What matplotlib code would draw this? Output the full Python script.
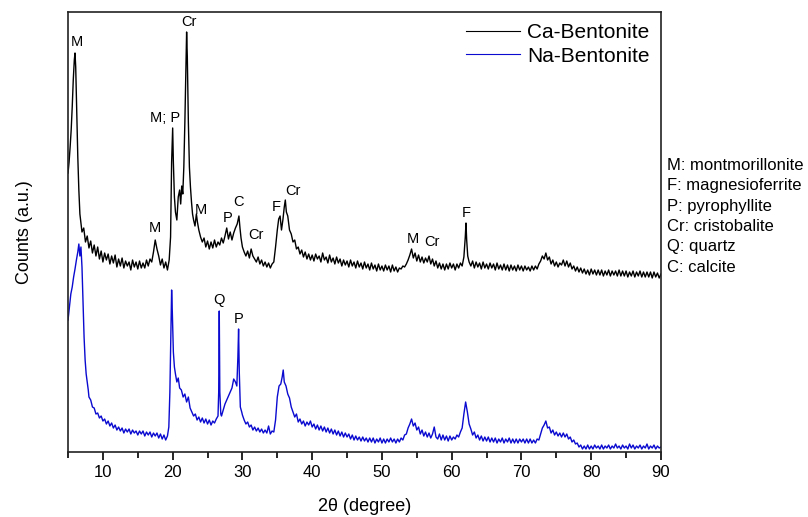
import matplotlib
matplotlib.use("Agg")
import matplotlib.pyplot as plt
from matplotlib.ticker import MultipleLocator

plt.rcParams['font.family'] = ['Liberation Sans', 'DejaVu Sans']

# XRD patterns (2theta in degrees, counts in arbitrary units)
two_theta_ca = [
    5.0, 5.15, 5.3, 5.45, 5.6, 5.75, 5.9, 6.0, 6.1, 6.25, 6.4, 6.55, 6.7, 6.85,
    7.0, 7.25, 7.5, 7.75, 8.0, 8.25, 8.5, 8.75, 9.0, 9.25, 9.5, 9.75,
    10.0, 10.25, 10.5, 10.75, 11.0, 11.25, 11.5, 11.75, 12.0, 12.25, 12.5, 12.75,
    13.0, 13.25, 13.5, 13.75, 14.0, 14.25, 14.5, 14.75, 15.0, 15.25, 15.5, 15.75,
    16.0, 16.25, 16.5, 16.75, 17.0, 17.25, 17.5, 17.75, 18.0, 18.25, 18.5, 18.75,
    19.0, 19.25, 19.5, 19.7, 19.85, 20.0, 20.1, 20.25, 20.4, 20.6, 20.8,
    21.0, 21.15, 21.3, 21.45, 21.6, 21.75, 21.9, 22.0, 22.1, 22.25, 22.4, 22.55,
    22.7, 22.85, 23.0, 23.2, 23.4, 23.55, 23.75, 24.0, 24.25, 24.5, 24.75,
    25.0, 25.25, 25.5, 25.75, 26.0, 26.25, 26.5, 26.75, 27.0, 27.25, 27.5, 27.75,
    28.0, 28.25, 28.5, 28.75, 29.0, 29.25, 29.5, 29.65, 29.8,
    30.0, 30.25, 30.5, 30.75, 31.0, 31.25, 31.5, 31.75, 32.0, 32.25, 32.5, 32.75,
    33.0, 33.25, 33.5, 33.75, 34.0, 34.25, 34.5, 34.75, 35.0, 35.2, 35.4, 35.6,
    35.8, 36.0, 36.15, 36.3, 36.5, 36.75, 37.0, 37.25, 37.5, 37.75,
    38.0, 38.25, 38.5, 38.75, 39.0, 39.25, 39.5, 39.75,
    40.0, 40.25, 40.5, 40.75, 41.0, 41.25, 41.5, 41.75, 42.0, 42.25, 42.5, 42.75,
    43.0, 43.25, 43.5, 43.75, 44.0, 44.25, 44.5, 44.75, 45.0, 45.25, 45.5, 45.75,
    46.0, 46.25, 46.5, 46.75, 47.0, 47.25, 47.5, 47.75, 48.0, 48.25, 48.5, 48.75,
    49.0, 49.25, 49.5, 49.75, 50.0, 50.25, 50.5, 50.75, 51.0, 51.25, 51.5, 51.75,
    52.0, 52.25, 52.5, 52.75, 53.0, 53.25, 53.5, 53.75, 54.0, 54.25, 54.5, 54.75,
    55.0, 55.25, 55.5, 55.75, 56.0, 56.25, 56.5, 56.75, 57.0, 57.25, 57.5, 57.75,
    58.0, 58.25, 58.5, 58.75, 59.0, 59.25, 59.5, 59.75, 60.0, 60.25, 60.5, 60.75,
    61.0, 61.25, 61.5, 61.75, 61.95, 62.05, 62.15, 62.3, 62.5, 62.75,
    63.0, 63.25, 63.5, 63.75, 64.0, 64.25, 64.5, 64.75, 65.0, 65.25, 65.5, 65.75,
    66.0, 66.25, 66.5, 66.75, 67.0, 67.25, 67.5, 67.75, 68.0, 68.25, 68.5, 68.75,
    69.0, 69.25, 69.5, 69.75, 70.0, 70.25, 70.5, 70.75, 71.0, 71.25, 71.5, 71.75,
    72.0, 72.25, 72.5, 72.75, 73.0, 73.25, 73.5, 73.75, 74.0, 74.25, 74.5, 74.75,
    75.0, 75.25, 75.5, 75.75, 76.0, 76.25, 76.5, 76.75, 77.0, 77.25, 77.5, 77.75,
    78.0, 78.25, 78.5, 78.75, 79.0, 79.25, 79.5, 79.75, 80.0, 80.25, 80.5, 80.75,
    81.0, 81.25, 81.5, 81.75, 82.0, 82.25, 82.5, 82.75, 83.0, 83.25, 83.5, 83.75,
    84.0, 84.25, 84.5, 84.75, 85.0, 85.25, 85.5, 85.75, 86.0, 86.25, 86.5, 86.75,
    87.0, 87.25, 87.5, 87.75, 88.0, 88.25, 88.5, 88.75, 89.0, 89.25, 89.5, 89.75,
    90.0]
counts_ca = [
    279, 290, 305, 322, 345, 372, 392, 399, 385, 340, 295, 262, 238, 229,
    220, 224, 210, 216, 204, 211, 199, 207, 196, 205, 193, 201,
    190, 199, 192, 198, 188, 196, 189, 197, 185, 193, 186, 194,
    184, 191, 186, 190, 182, 192, 185, 190, 183, 191, 184, 189,
    184, 192, 186, 193, 190, 200, 212, 203, 196, 187, 193, 184,
    190, 182, 192, 215, 290, 324, 290, 255, 240, 232, 255,
    262, 248, 266, 258, 285, 330, 385, 420, 395, 330, 285, 265,
    250, 238, 232, 226, 238, 230, 222, 215, 210, 214, 205,
    211, 203, 210, 204, 212, 205, 210, 207, 214, 209, 216, 224,
    213, 220, 212, 219, 224, 228, 236, 224, 214,
    205, 200, 196, 201, 194, 203, 196, 193, 190, 195, 188, 192,
    186, 190, 185, 189, 184, 188, 190, 205, 222, 233, 236, 222,
    232, 245, 252, 240, 236, 222, 218, 210, 212, 203,
    205, 198, 202, 195, 200, 193, 198, 192,
    197, 191, 198, 193, 196, 190, 199, 192, 195, 189, 197, 190,
    194, 188, 195, 189, 193, 186, 192, 187, 191, 185, 192, 186,
    190, 184, 191, 185, 189, 183, 190, 184, 188, 182, 189, 183,
    187, 181, 188, 182, 186, 181, 187, 182, 186, 180, 187, 181,
    185, 180, 184, 183, 186, 185, 188, 192, 197, 203, 194, 199,
    191, 197, 190, 195, 189, 194, 190, 196, 188, 193, 186, 191,
    184, 189, 183, 188, 182, 188, 183, 189, 184, 188, 182, 188,
    184, 189, 186, 195, 215, 229, 212, 196, 190, 186,
    191, 184, 190, 185, 189, 183, 190, 184, 188, 183, 189, 184,
    188, 182, 189, 183, 187, 182, 188, 182, 187, 181, 187, 182,
    186, 181, 187, 182, 186, 181, 186, 182, 185, 181, 186, 182,
    186, 183, 188, 191, 196, 193, 199, 192, 195, 188, 192, 186,
    190, 185, 189, 187, 192, 186, 191, 185, 189, 183, 186, 181,
    185, 180, 184, 179, 183, 178, 182, 177, 183, 178, 182, 177,
    182, 177, 182, 176, 181, 177, 182, 176, 181, 177, 181, 176,
    182, 176, 181, 176, 181, 175, 180, 176, 181, 175, 180, 176,
    181, 175, 180, 175, 180, 175, 180, 174, 180, 175, 179, 174,
    178]

two_theta_na = [
    5.0, 5.2, 5.4, 5.6, 5.8, 6.0, 6.2, 6.4, 6.55, 6.7, 6.85, 7.0, 7.15, 7.3,
    7.45, 7.6, 7.75, 7.9, 8.0, 8.25, 8.5, 8.75, 9.0, 9.25, 9.5, 9.75,
    10.0, 10.25, 10.5, 10.75, 11.0, 11.25, 11.5, 11.75, 12.0, 12.25, 12.5, 12.75,
    13.0, 13.25, 13.5, 13.75, 14.0, 14.25, 14.5, 14.75, 15.0, 15.25, 15.5, 15.75,
    16.0, 16.25, 16.5, 16.75, 17.0, 17.25, 17.5, 17.75, 18.0, 18.25, 18.5, 18.75,
    19.0, 19.25, 19.45, 19.6, 19.75, 19.85, 19.95, 20.1, 20.25, 20.4, 20.6, 20.8,
    21.0, 21.25, 21.5, 21.75, 22.0, 22.25, 22.5, 22.75, 23.0, 23.25, 23.5, 23.75,
    24.0, 24.25, 24.5, 24.75, 25.0, 25.25, 25.5, 25.75, 26.0, 26.25, 26.5, 26.6,
    26.68, 26.76, 26.9, 27.0, 27.25, 27.5, 27.75, 28.0, 28.25, 28.5, 28.75, 29.0,
    29.2, 29.35, 29.45, 29.55, 29.7, 29.9,
    30.0, 30.25, 30.5, 30.75, 31.0, 31.25, 31.5, 31.75, 32.0, 32.25, 32.5, 32.75,
    33.0, 33.25, 33.5, 33.75, 34.0, 34.25, 34.5, 34.75, 35.0, 35.25, 35.5, 35.7,
    35.85, 36.0, 36.25, 36.5, 36.75, 37.0, 37.25, 37.5, 37.75,
    38.0, 38.25, 38.5, 38.75, 39.0, 39.25, 39.5, 39.75,
    40.0, 40.25, 40.5, 40.75, 41.0, 41.25, 41.5, 41.75, 42.0, 42.25, 42.5, 42.75,
    43.0, 43.25, 43.5, 43.75, 44.0, 44.25, 44.5, 44.75, 45.0, 45.25, 45.5, 45.75,
    46.0, 46.25, 46.5, 46.75, 47.0, 47.25, 47.5, 47.75, 48.0, 48.25, 48.5, 48.75,
    49.0, 49.25, 49.5, 49.75, 50.0, 50.25, 50.5, 50.75, 51.0, 51.25, 51.5, 51.75,
    52.0, 52.25, 52.5, 52.75, 53.0, 53.25, 53.5, 53.75, 54.0, 54.25, 54.5, 54.75,
    55.0, 55.25, 55.5, 55.75, 56.0, 56.25, 56.5, 56.75, 57.0, 57.25, 57.5, 57.75,
    58.0, 58.25, 58.5, 58.75, 59.0, 59.25, 59.5, 59.75, 60.0, 60.25, 60.5, 60.75,
    61.0, 61.25, 61.5, 61.75, 62.0, 62.25, 62.5, 62.75,
    63.0, 63.25, 63.5, 63.75, 64.0, 64.25, 64.5, 64.75, 65.0, 65.25, 65.5, 65.75,
    66.0, 66.25, 66.5, 66.75, 67.0, 67.25, 67.5, 67.75, 68.0, 68.25, 68.5, 68.75,
    69.0, 69.25, 69.5, 69.75, 70.0, 70.25, 70.5, 70.75, 71.0, 71.25, 71.5, 71.75,
    72.0, 72.25, 72.5, 72.75, 73.0, 73.25, 73.5, 73.75, 74.0, 74.25, 74.5, 74.75,
    75.0, 75.25, 75.5, 75.75, 76.0, 76.25, 76.5, 76.75, 77.0, 77.25, 77.5, 77.75,
    78.0, 78.25, 78.5, 78.75, 79.0, 79.25, 79.5, 79.75, 80.0, 80.25, 80.5, 80.75,
    81.0, 81.25, 81.5, 81.75, 82.0, 82.25, 82.5, 82.75, 83.0, 83.25, 83.5, 83.75,
    84.0, 84.25, 84.5, 84.75, 85.0, 85.25, 85.5, 85.75, 86.0, 86.25, 86.5, 86.75,
    87.0, 87.25, 87.5, 87.75, 88.0, 88.25, 88.5, 88.75, 89.0, 89.25, 89.5, 89.75,
    90.0]
counts_na = [
    132, 145, 158, 165, 175, 183, 192, 200, 208, 196, 205, 185, 150, 115,
    92, 78, 70, 62, 55, 52, 45, 44, 38, 39, 34, 36,
    31, 33, 28, 31, 26, 29, 24, 27, 22, 25, 21, 24,
    19, 23, 20, 23, 18, 22, 19, 21, 17, 21, 18, 21,
    16, 20, 17, 20, 15, 19, 16, 19, 14, 18, 13, 17,
    12, 16, 25, 60, 120, 162, 140, 100, 85, 78, 70, 74,
    64, 62, 55, 58, 50, 55, 44, 40, 36, 38, 32, 35,
    30, 34, 29, 33, 28, 32, 27, 31, 29, 33, 36, 60,
    141, 60, 38, 36, 42, 48, 52, 56, 60, 64, 73, 70,
    66, 95, 123, 80, 45, 40,
    37, 32, 28, 30, 25, 27, 22, 25, 21, 24, 20, 23,
    19, 22, 19, 26, 18, 21, 20, 32, 55, 66, 68, 75,
    82, 70, 66, 58, 54, 45, 40, 35, 38,
    30, 33, 28, 31, 26, 30, 27, 31,
    25, 28, 23, 27, 22, 26, 21, 25, 20, 24, 19, 23,
    18, 22, 17, 21, 16, 20, 15, 19, 15, 18, 13, 17,
    12, 16, 12, 15, 11, 15, 11, 14, 10, 14, 10, 14,
    9, 13, 10, 14, 9, 13, 9, 13, 10, 14, 10, 13,
    9, 13, 10, 14, 12, 17, 18, 24, 28, 33, 26, 29,
    22, 25, 18, 22, 16, 20, 15, 19, 14, 18, 25, 15,
    13, 18, 12, 17, 12, 16, 11, 16, 12, 15, 13, 17,
    15, 20, 24, 38, 50, 40, 28, 23,
    17, 20, 14, 17, 12, 16, 11, 15, 11, 15, 10, 14,
    10, 14, 9, 13, 10, 14, 9, 13, 10, 14, 9, 13,
    9, 13, 9, 13, 10, 13, 9, 13, 9, 13, 9, 12,
    9, 13, 12, 18, 24, 27, 31, 24, 25, 19, 22, 17,
    20, 16, 19, 15, 19, 15, 18, 13, 15, 10, 12, 8,
    9, 5, 7, 3, 6, 3, 7, 3, 6, 3, 7, 4,
    6, 3, 7, 3, 6, 4, 7, 3, 6, 4, 8, 4,
    6, 3, 7, 4, 6, 3, 8, 4, 7, 3, 6, 4,
    7, 3, 6, 4, 8, 3, 6, 4, 7, 3, 6, 4,
    5]

# peak labels: (text, 2theta, height)
peak_labels = ["M", "Cr", "M; P", "M", "M", "P", "C", "Cr", "F", "Cr", "M", "Cr", "F", "Q", "P"]
peak_x = [6.2, 22.4, 18.9, 17.5, 24.1, 27.9, 29.5, 32.0, 34.8, 37.2, 54.4, 57.2, 62.05, 26.7, 29.5]
peak_y = [410, 430, 334, 224, 242, 234, 250, 217, 245, 261, 213, 210, 239, 152, 133]

phase_key = ["M: montmorillonite", "F: magnesioferrite", "P: pyrophyllite",
             "Cr: cristobalite", "Q: quartz", "C: calcite"]

fig = plt.figure(figsize=(8.08, 5.17), dpi=100)
ax = fig.add_axes([0.0842, 0.1257, 0.7338, 0.8511])

ax.plot(two_theta_ca, counts_ca, color='black', lw=1.0, label='Ca-Bentonite')
ax.plot(two_theta_na, counts_na, color='#0a0ad0', lw=1.0, label='Na-Bentonite')

for lab, px, py in zip(peak_labels, peak_x, peak_y):
    ax.text(px, py, lab, ha='center', va='center', fontsize=10.5)

ax.set_xlim(5, 90)
ax.set_ylim(0, 440)
ax.xaxis.set_major_locator(MultipleLocator(10))
ax.xaxis.set_minor_locator(MultipleLocator(5))
ax.tick_params(axis='x', which='major', direction='out', length=6, width=1.2, labelsize=12)
ax.tick_params(axis='x', which='minor', direction='out', length=4, width=1.2)
ax.set_yticks([])
for sp in ax.spines.values():
    sp.set_linewidth(1.2)
    sp.set_color('#222222')

ax.set_xlabel('2θ (degree)', fontsize=13, labelpad=13)
ax.set_ylabel('Counts (a.u.)', fontsize=13, labelpad=25)

leg = ax.legend(loc='upper right', frameon=False, fontsize=15, handlelength=2.6,
                handletextpad=0.35, borderaxespad=0.15, labelspacing=0.2)
for line in leg.get_lines():
    line.set_linewidth(0.8)

for i, t in enumerate(phase_key):
    fig.text(667 / 808, 1 - (165 + i * 20.5) / 517, t, ha='left', va='center', fontsize=12)

fig.savefig('out.png', dpi=100)
